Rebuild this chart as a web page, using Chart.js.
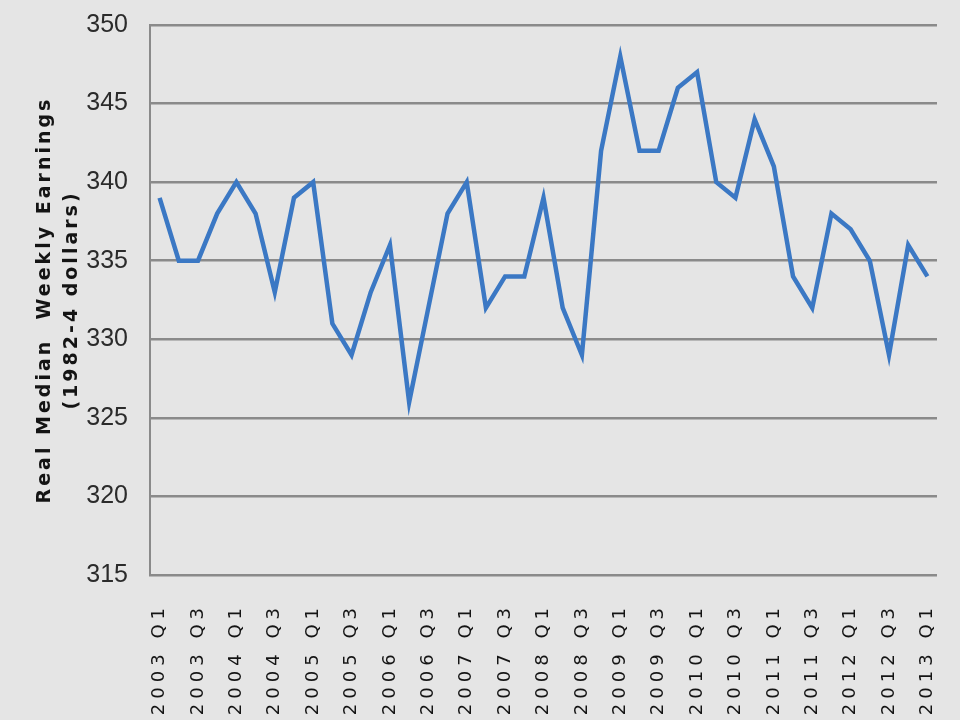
<!DOCTYPE html>
<html>
<head>
<meta charset="utf-8">
<title>Real Median Weekly Earnings</title>
<script src="https://cdn.jsdelivr.net/npm/chart.js@4/dist/chart.umd.min.js"></script>
<style>
  html, body { margin: 0; padding: 0; background: #e5e5e5; }
  #wrap { width: 960px; height: 720px; position: relative; }
</style>
</head>
<body>
<div id="wrap"><canvas id="earningsChart"></canvas></div>
<script>
const quarters = [
  "2003 Q1", "2003 Q2", "2003 Q3", "2003 Q4",
  "2004 Q1", "2004 Q2", "2004 Q3", "2004 Q4",
  "2005 Q1", "2005 Q2", "2005 Q3", "2005 Q4",
  "2006 Q1", "2006 Q2", "2006 Q3", "2006 Q4",
  "2007 Q1", "2007 Q2", "2007 Q3", "2007 Q4",
  "2008 Q1", "2008 Q2", "2008 Q3", "2008 Q4",
  "2009 Q1", "2009 Q2", "2009 Q3", "2009 Q4",
  "2010 Q1", "2010 Q2", "2010 Q3", "2010 Q4",
  "2011 Q1", "2011 Q2", "2011 Q3", "2011 Q4",
  "2012 Q1", "2012 Q2", "2012 Q3", "2012 Q4",
  "2013 Q1"
];

const earnings = [
  339, 335, 335, 338,
  340, 338, 333, 339,
  340, 331, 329, 333,
  336, 326, 332, 338,
  340, 332, 334, 334,
  339, 332, 329, 342,
  348, 342, 342, 346,
  347, 340, 339, 344,
  341, 334, 332, 338,
  337, 335, 329, 336,
  334
];

const yMin = 315;
const yMax = 350;
const yStep = 5;

const yTitle = ["Real Median  Weekly Earnings", "(1982-4 dollars)"];

const gridColor = "#8a8a8a";

const ctx = document.getElementById("earningsChart").getContext("2d");

const chart = new Chart(ctx, {
  type: "line",
  data: {
    labels: quarters,
    datasets: [{
      label: "Real Median Weekly Earnings",
      data: earnings,
      borderColor: "#3b78c4",
      borderWidth: 4.5,
      borderJoinStyle: "miter",
      pointRadius: 0,
      tension: 0,
      fill: false
    }]
  },
  options: {
    responsive: true,
    maintainAspectRatio: false,
    animation: false,
    layout: { padding: { top: 25, right: 23, left: 0, bottom: 0 } },
    plugins: {
      legend: { display: false },
      tooltip: { enabled: false }
    },
    scales: {
      x: {
        type: "category",
        offset: true,
        grid: { display: false },
        border: { display: false },
        ticks: {
          autoSkip: false,
          minRotation: 90,
          maxRotation: 90,
          padding: 20,
          color: "#141414",
          font: { family: "DejaVu Sans", size: 18 },
          // only every second quarter is labelled
          callback: function (value, index) {
            return index % 2 === 0 ? this.getLabelForValue(value) : "";
          }
        },
        afterFit: (scale) => {
          scale.height = 145;
          scale.paddingLeft = 0;
          scale.paddingRight = 0;
        }
      },
      y: {
        min: yMin,
        max: yMax,
        grid: { color: gridColor, lineWidth: 2.5, drawTicks: false },
        border: { display: true, color: gridColor, width: 2 },
        ticks: {
          stepSize: yStep,
          padding: 22,
          color: "#2b2b2b",
          font: { family: "'Liberation Sans', sans-serif", size: 25 }
        },
        title: {
          display: true,
          text: yTitle,
          color: "#141414",
          padding: { top: 32, bottom: 0 },
          font: { family: "DejaVu Sans", size: 19, weight: "bold", lineHeight: "27px" }
        },
        afterFit: (scale) => {
          scale.width = 150;
          scale.paddingTop = 0;
          scale.paddingBottom = 0;
        }
      }
    }
  }
});

// the picture's rotated texts are drawn wide, so space their letters out
function spaced(fn, spacing) {
  return function (...args) {
    const c = this.ctx;
    const old = c.letterSpacing;
    c.letterSpacing = spacing;
    fn.apply(this, args);
    c.letterSpacing = old;
  };
}

chart.scales.x.drawLabels = spaced(chart.scales.x.drawLabels, "5px");
chart.scales.y.drawTitle = spaced(chart.scales.y.drawTitle, "3px");
chart.draw();
</script>
</body>
</html>
